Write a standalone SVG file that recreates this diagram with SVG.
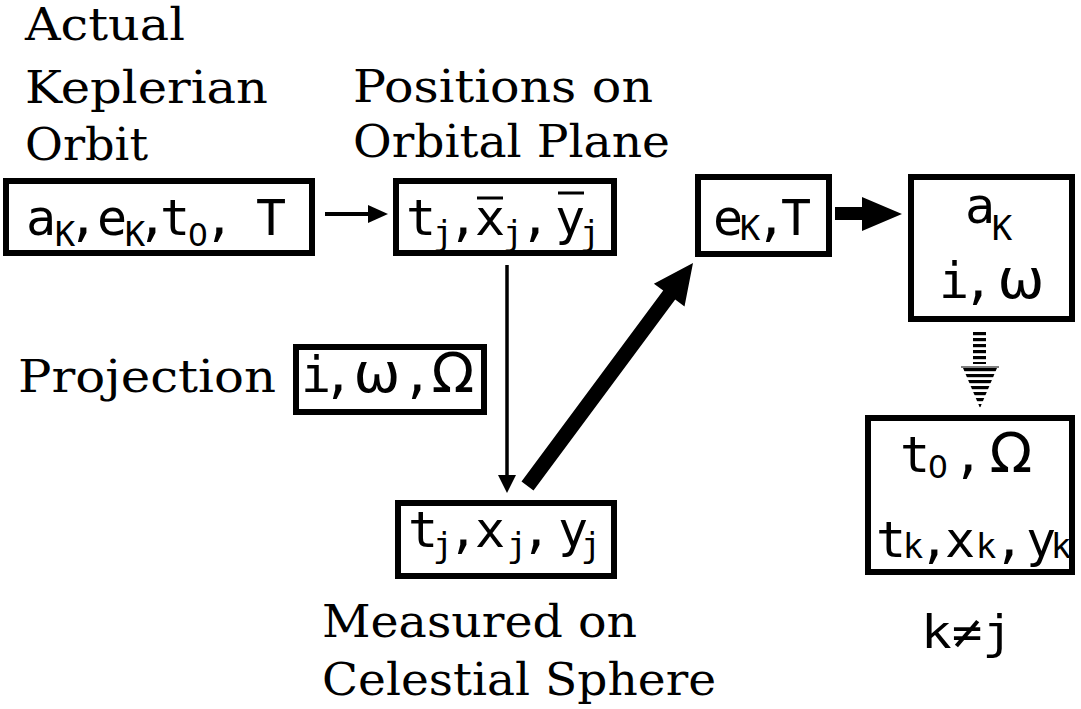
<svg xmlns="http://www.w3.org/2000/svg" width="1081" height="709" viewBox="0 0 1081 709">
<style>
.box{fill:#fff;stroke:#000;stroke-width:6}
.lbl{font-family:"DejaVu Serif","Liberation Serif",serif;font-size:44px;fill:#000}
.m{font-family:"DejaVu Sans Mono","Liberation Mono",monospace;font-size:50px;fill:#000;text-anchor:middle}
.s{font-size:34px}
.z{font-family:"DejaVu Sans","Liberation Sans",sans-serif;font-size:32px}
.g{font-family:"DejaVu Sans","Liberation Sans",sans-serif;font-size:56px}
.bar{stroke:#000;stroke-width:3}
</style>
<defs>
<pattern id="stripes" patternUnits="userSpaceOnUse" x="0" y="332" width="10" height="6">
<rect x="0" y="0" width="10" height="3.2" fill="#000"/>
</pattern>
</defs>
<rect width="1081" height="709" fill="#fff"/>
<g id="labels">
<text class="lbl" x="25" y="40" textLength="160" lengthAdjust="spacingAndGlyphs">Actual</text>
<text class="lbl" x="25" y="103" textLength="243" lengthAdjust="spacingAndGlyphs">Keplerian</text>
<text class="lbl" x="25" y="160" textLength="123" lengthAdjust="spacingAndGlyphs">Orbit</text>
<text class="lbl" x="353" y="102" textLength="300" lengthAdjust="spacingAndGlyphs">Positions on</text>
<text class="lbl" x="353" y="157" textLength="317" lengthAdjust="spacingAndGlyphs">Orbital Plane</text>
<text class="lbl" x="18" y="392" textLength="258" lengthAdjust="spacingAndGlyphs">Projection</text>
<text class="lbl" x="322" y="637" textLength="315" lengthAdjust="spacingAndGlyphs">Measured on</text>
<text class="lbl" x="322" y="695" textLength="394" lengthAdjust="spacingAndGlyphs">Celestial Sphere</text>
<text class="m" x="967" y="648" style="font-size:46px" textLength="92" lengthAdjust="spacingAndGlyphs">k≠j</text>
</g>
<g id="node-orbit">
<rect class="box" x="6" y="181" width="306" height="72"/>
<text class="m"><tspan x="41" y="235">a</tspan><tspan class="s" x="65" y="246">K</tspan><tspan x="83" y="235">,</tspan><tspan x="112" y="235">e</tspan><tspan class="s" x="135" y="246">K</tspan><tspan x="152" y="235">,</tspan><tspan x="175" y="235">t</tspan><tspan class="z" x="198" y="246">0</tspan><tspan x="219" y="235">,</tspan><tspan x="271" y="235">T</tspan></text>
</g>
<g id="node-plane">
<rect class="box" x="396" y="181" width="218" height="72"/>
<text class="m"><tspan x="421" y="235">t</tspan><tspan class="s" x="443" y="245">j</tspan><tspan x="463" y="235">,</tspan><tspan x="490" y="235">x</tspan><tspan class="s" x="513" y="245">j</tspan><tspan x="535" y="235">,</tspan><tspan x="570" y="235">y</tspan><tspan class="s" x="590" y="245">j</tspan></text>
<line class="bar" x1="477" y1="198" x2="503" y2="198"/>
<line class="bar" x1="558" y1="193" x2="584" y2="193"/>
</g>
<g id="node-projection">
<rect class="box" x="296" y="347" width="188" height="65"/>
<text class="m"><tspan x="316" y="392">i</tspan><tspan x="338" y="392">,</tspan><tspan class="g" x="377" y="392">ω</tspan><tspan x="417" y="392">,</tspan><tspan class="g" x="453" y="392">Ω</tspan></text>
</g>
<g id="node-measured">
<rect class="box" x="398" y="503" width="216" height="73"/>
<text class="m"><tspan x="423" y="547">t</tspan><tspan class="s" x="443" y="557">j</tspan><tspan x="463" y="547">,</tspan><tspan x="490" y="547">x</tspan><tspan class="s" x="517" y="557">j</tspan><tspan x="536" y="547">,</tspan><tspan x="573" y="547">y</tspan><tspan class="s" x="591" y="557">j</tspan></text>
</g>
<g id="node-eT">
<rect class="box" x="698" y="177" width="131" height="77"/>
<text class="m"><tspan x="728" y="235">e</tspan><tspan class="s" x="750" y="240">K</tspan><tspan x="771" y="235">,</tspan><tspan x="796" y="235">T</tspan></text>
</g>
<g id="node-aiw">
<rect class="box" x="911" y="177" width="161" height="142"/>
<text class="m"><tspan x="980" y="223">a</tspan><tspan class="s" x="1002" y="240">K</tspan><tspan x="954" y="298">i</tspan><tspan x="978" y="298">,</tspan><tspan class="g" x="1021" y="298">ω</tspan></text>
</g>
<g id="node-t0">
<rect class="box" x="868" y="418" width="204" height="154"/>
<text class="m"><tspan x="915" y="472">t</tspan><tspan class="z" x="938" y="478">0</tspan><tspan x="968" y="472">,</tspan><tspan class="g" x="1011" y="472">Ω</tspan><tspan x="891" y="557">t</tspan><tspan class="s" x="913" y="558">k</tspan><tspan x="934" y="557">,</tspan><tspan x="960" y="557">x</tspan><tspan class="s" x="986" y="558">k</tspan><tspan x="1009" y="557">,</tspan><tspan x="1041" y="557">y</tspan><tspan class="s" x="1061" y="558">k</tspan></text>
</g>
<g id="connectors">
<line x1="325" y1="214" x2="370" y2="214" stroke="#000" stroke-width="4"/>
<polygon points="368,205 388,214 368,223" fill="#000"/>
<line x1="507" y1="265" x2="507" y2="477" stroke="#000" stroke-width="3.5"/>
<polygon points="498,475 507,493 516,475" fill="#000"/>
<polygon points="533.5,490.5 675.2,299.6 684.5,306.4 693,263 653.9,283.8 663.2,290.6 521.5,481.5" fill="#000"/>
<polygon points="835,207 862,207 862,197 902,214 862,231 862,220 835,220" fill="#000"/>
<rect x="973" y="332" width="13" height="32" fill="url(#stripes)"/>
<polygon points="963,368 997,368 980,408" fill="url(#stripes)"/>
<line x1="961" y1="367" x2="999" y2="367" stroke="#000" stroke-width="1.2"/>
</g>
</svg>
